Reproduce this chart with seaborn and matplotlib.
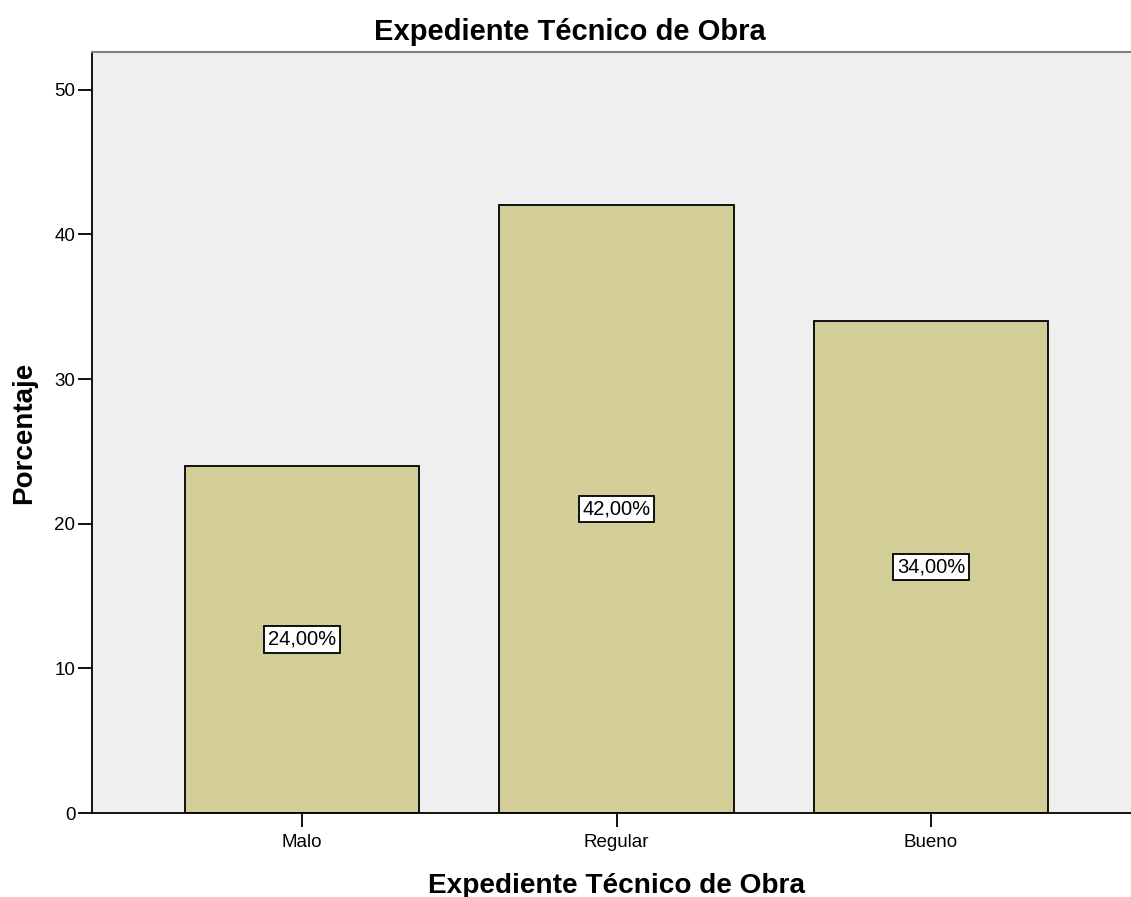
import seaborn as sns
import matplotlib.pyplot as plt
import pandas as pd

categories = ['Malo', 'Regular', 'Bueno']
percentages = [24.0, 42.0, 34.0]
y_ticks = [0, 10, 20, 30, 40, 50]

df = pd.DataFrame({'Categoria': categories, 'Porcentaje': percentages})

sns.set_style("white")
plt.rcParams['font.family'] = ['Liberation Sans', 'DejaVu Sans']
plt.rcParams['text.color'] = 'black'
plt.rcParams['axes.labelcolor'] = 'black'

fig = plt.figure(figsize=(11.31, 8.97), dpi=100)
ax = fig.add_axes([0.0813, 0.0936, 0.9187, 0.8484])
ax.set_facecolor('#EFEFEF')

sns.barplot(data=df, x='Categoria', y='Porcentaje', color='#D3CE97',
            saturation=1, width=0.747, edgecolor='black', linewidth=1.3, ax=ax)

# value labels in the middle of each bar
for i, v in enumerate(percentages):
    ax.text(i, v / 2, f'{v:.2f}%'.replace('.', ','), ha='center', va='center',
            fontsize=14.5, color='black',
            bbox=dict(facecolor='white', edgecolor='black',
                      boxstyle='square,pad=0.18', linewidth=1.3))

ax.set_xlim(-0.668, 2.636)
ax.set_ylim(0, 52.6)
ax.set_yticks(y_ticks)
ax.tick_params(axis='both', direction='out', length=10, width=1.3,
               colors='black', labelsize=13.5, left=True, bottom=True)
ax.tick_params(axis='y', pad=2)
ax.tick_params(axis='x', pad=5)

for s in ['left', 'bottom']:
    ax.spines[s].set_color('black')
    ax.spines[s].set_linewidth(1.3)
ax.spines['top'].set_color('#808080')
ax.spines['top'].set_linewidth(1.5)
ax.spines['right'].set_visible(False)

# title is centred on the whole figure, not on the axes
fig.text(0.504, 0.964, 'Expediente Técnico de Obra', fontsize=21,
         fontweight='bold', ha='center', va='center')
ax.set_xlabel('Expediente Técnico de Obra', fontsize=20.2, fontweight='bold')
ax.xaxis.set_label_coords(0.505, -0.079)
ax.set_ylabel('Porcentaje', fontsize=20, fontweight='bold', labelpad=12)

fig.savefig('out.png', dpi=100)
